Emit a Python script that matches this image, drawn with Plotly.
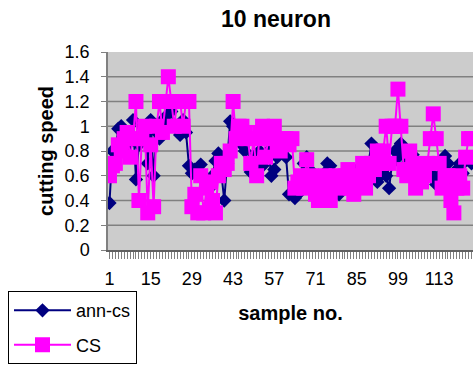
import plotly.graph_objects as go

samples = list(range(1, 125))
ann_cs = [0.38, 0.8, 0.8, 0.98, 1.0, 0.95, 0.85, 0.75, 1.05, 0.57,
          0.85, 1.0, 0.9, 0.7, 1.05, 0.6, 0.95, 0.9, 1.05, 1.0,
          1.1, 1.12, 1.0, 0.98, 0.93, 1.05, 0.95, 0.68, 0.62, 0.65,
          0.6, 0.69, 0.6, 0.55, 0.5, 0.6, 0.72, 0.78, 0.62, 0.4,
          0.7, 1.04, 1.0, 0.9, 0.95, 0.85, 0.8, 0.9, 0.63, 0.75,
          0.7, 0.8, 0.68, 0.75, 0.8, 0.6, 0.65, 0.75, 0.9, 0.8,
          0.75, 0.45, 0.47, 0.42, 0.45, 0.6, 0.7, 0.75, 0.65, 0.6,
          0.55, 0.6, 0.55, 0.62, 0.7, 0.68, 0.6, 0.5, 0.45, 0.55,
          0.62, 0.6, 0.55, 0.65, 0.6, 0.62, 0.55, 0.6, 0.7, 0.86,
          0.6, 0.55, 0.6, 0.65, 0.6, 0.5, 0.7, 0.8, 0.75, 0.86,
          0.8, 0.7, 0.65, 0.77, 0.72, 0.6, 0.55, 0.65, 0.7, 0.68,
          0.6, 0.53, 0.6, 0.62, 0.76, 0.7, 0.58, 0.6, 0.65, 0.7,
          0.62, 0.72, 0.74, 0.7]
cs = [0.6, 0.68, 0.7, 0.85, 0.8, 0.9, 0.95, 0.75, 0.9, 1.2,
      0.4, 0.9, 1.0, 0.3, 0.85, 0.35, 1.0, 1.2, 0.95, 1.2,
      1.4, 1.2, 1.0, 1.2, 1.2, 1.0, 1.2, 1.2, 0.35, 0.45,
      0.3, 0.6, 0.3, 0.5, 0.55, 0.4, 0.3, 0.6, 0.7, 0.65,
      0.7, 0.8, 1.2, 0.9, 1.0, 1.0, 0.95, 0.9, 0.7, 0.9,
      0.6, 0.95, 1.0, 0.75, 0.9, 0.95, 1.0, 0.85, 0.8, 0.9,
      0.9, 0.85, 0.9, 0.5, 0.55, 0.6, 0.5, 0.73, 0.6, 0.55,
      0.45, 0.4, 0.5, 0.6, 0.5, 0.4, 0.55, 0.6, 0.5, 0.55,
      0.6, 0.65, 0.5, 0.45, 0.55, 0.6, 0.7, 0.5, 0.6, 0.7,
      0.65, 0.8, 0.7, 0.8, 1.0, 0.7, 1.0, 1.0, 1.3, 1.0,
      0.65, 0.6, 0.8, 0.7, 0.5, 0.65, 0.55, 0.6, 0.7, 0.9,
      1.1, 0.9, 0.7, 0.5, 0.6, 0.6, 0.4, 0.3, 0.5, 0.6,
      0.5, 0.75, 0.9, 0.9]
x_tick_labels = [1, 15, 29, 43, 57, 71, 85, 99, 113]
y_ticks = [0, 0.2, 0.4, 0.6, 0.8, 1.0, 1.2, 1.4, 1.6]
y_tick_text = ["0", "0.2", "0.4", "0.6", "0.8", "1", "1.2", "1.4", "1.6"]

FONT = "Liberation Sans, Arial, sans-serif"

# a tick mark on every category, a label on every 14th
x_tickvals = samples
x_ticktext = [str(s) if s in x_tick_labels else "" for s in samples]

fig = go.Figure()
fig.add_trace(go.Scatter(
    x=samples, y=ann_cs, name="ann-cs", mode="lines+markers",
    line=dict(color="#000080", width=2),
    marker=dict(symbol="diamond", size=11, color="#000080"),
    legendgroup="a"))
fig.add_trace(go.Scatter(
    x=samples, y=cs, name="CS", mode="lines+markers",
    line=dict(color="#FF00FF", width=2),
    marker=dict(symbol="square", size=15, color="#FF00FF"),
    legendgroup="b"))

# horizontal gridlines (Excel style, none at the top edge)
for v in y_ticks[1:-1]:
    fig.add_shape(type="line", xref="paper", yref="y", x0=0, x1=1, y0=v, y1=v,
                  line=dict(color="#808080", width=1.5), layer="below")

fig.update_layout(
    width=476, height=367,
    margin=dict(l=108, r=3, t=52, b=113),
    paper_bgcolor="white", plot_bgcolor="#cccccc",
    font=dict(family=FONT, size=18, color="black"),
    title=dict(text="<b>10 neuron</b>", x=276 / 476, xanchor="center",
               y=1 - 19 / 367, yanchor="middle", font=dict(size=23)),
    showlegend=True,
    legend=dict(x=-100 / 365, y=-42 / 202, xanchor="left", yanchor="top",
                bgcolor="white", bordercolor="black", borderwidth=1,
                font=dict(size=18), itemwidth=57, tracegroupgap=8),
)
fig.update_xaxes(
    range=[0.5, len(samples) + 0.5],
    tickmode="array", tickvals=x_tickvals, ticktext=x_ticktext,
    ticks="outside", ticklen=7, tickwidth=1, tickcolor="#808080",
    showgrid=False, zeroline=False,
    showline=True, linecolor="#606060", linewidth=1.5,
    tickfont=dict(size=18), ticklabelstandoff=5,
    title=dict(text="<b>sample no.</b>", font=dict(size=20), standoff=18),
)
fig.update_yaxes(
    range=[0, 1.6], tickvals=y_ticks, ticktext=y_tick_text,
    ticks="outside", ticklen=5, tickcolor="#808080",
    showgrid=False, zeroline=False,
    showline=True, linecolor="#808080", linewidth=1.5,
    tickfont=dict(size=18), ticklabelstandoff=8,
    title=dict(text="<b>cutting speed</b>", font=dict(size=20), standoff=6),
)

fig.write_html("out.html")
